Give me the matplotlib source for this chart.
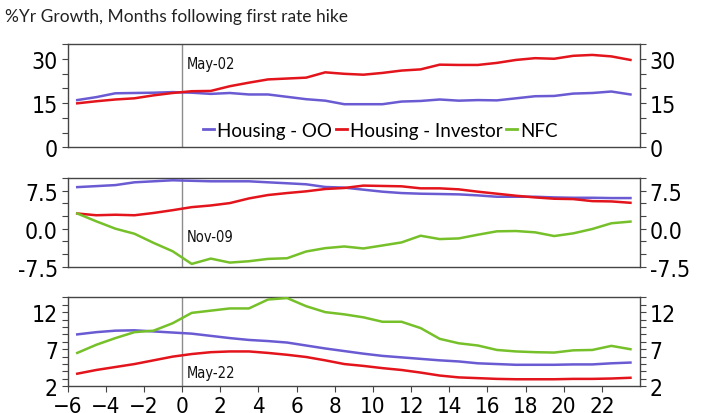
import numpy as np
import matplotlib
matplotlib.use("Agg")
import matplotlib.pyplot as plt
from matplotlib.ticker import FixedLocator, FuncFormatter
from matplotlib.lines import Line2D

# months relative to first hike (monthly obs plotted mid-month)
months = np.arange(-6, 24) + 0.5

# May-02 cycle
oo_02 = [16.0, 17.0, 18.3, 18.4, 18.5, 18.7, 18.5, 18.1, 18.4, 17.9,
         17.9, 17.1, 16.3, 15.8, 14.6, 14.6, 14.6, 15.5, 15.7, 16.2,
         15.8, 16.0, 15.9, 16.6, 17.3, 17.4, 18.2, 18.4, 18.9, 17.9]
inv_02 = [14.9, 15.6, 16.2, 16.6, 17.6, 18.4, 19.0, 19.1, 20.7, 21.9,
          23.0, 23.3, 23.6, 25.4, 24.9, 24.6, 25.2, 26.0, 26.4, 28.0,
          27.9, 27.9, 28.6, 29.6, 30.2, 30.0, 31.0, 31.3, 30.8, 29.6]

# Nov-09 cycle
oo_09 = [8.2, 8.4, 8.6, 9.15, 9.35, 9.55, 9.45, 9.35, 9.35, 9.35,
         9.15, 8.96, 8.76, 8.23, 8.1, 7.7, 7.3, 7.03, 6.9, 6.84,
         6.77, 6.57, 6.3, 6.3, 6.3, 6.17, 6.1, 6.1, 6.04, 6.04]
inv_09 = [3.0, 2.65, 2.75, 2.65, 3.1, 3.65, 4.25, 4.58, 5.05, 5.97,
          6.64, 7.03, 7.37, 7.83, 8.03, 8.5, 8.43, 8.36, 7.96, 7.96,
          7.76, 7.3, 6.9, 6.5, 6.17, 5.91, 5.84, 5.44, 5.38, 5.11]
nfc_09 = [3.0, 1.45, 0.0, -1.0, -2.8, -4.45, -6.95, -5.9, -6.69, -6.42,
          -5.96, -5.83, -4.5, -3.84, -3.51, -3.9, -3.31, -2.71, -1.39, -2.05,
          -1.92, -1.19, -0.52, -0.46, -0.72, -1.45, -0.92, -0.06, 1.07, 1.4]

# May-22 cycle
oo_22 = [9.0, 9.3, 9.5, 9.55, 9.4, 9.25, 9.1, 8.8, 8.5, 8.25,
         8.1, 7.9, 7.5, 7.1, 6.75, 6.4, 6.1, 5.9, 5.7, 5.5,
         5.35, 5.1, 5.0, 4.9, 4.9, 4.9, 4.95, 4.95, 5.1, 5.2]
inv_22 = [3.7, 4.2, 4.6, 5.0, 5.5, 6.0, 6.35, 6.6, 6.7, 6.7,
          6.5, 6.25, 5.95, 5.5, 5.0, 4.75, 4.45, 4.2, 3.85, 3.45,
          3.2, 3.1, 3.0, 2.95, 2.95, 2.95, 3.0, 3.0, 3.05, 3.15]
nfc_22 = [6.5, 7.6, 8.5, 9.3, 9.5, 10.5, 11.9, 12.2, 12.5, 12.5,
          13.7, 13.9, 12.8, 12.0, 11.7, 11.3, 10.7, 10.7, 9.85, 8.4,
          7.8, 7.5, 6.9, 6.7, 6.6, 6.55, 6.85, 6.9, 7.45, 7.0]

cycle_labels = ["May-02", "Nov-09", "May-22"]
xticks = list(range(-6, 24, 2))

C_OO = "#6a5bd3"
C_INV = "#e3141b"
C_NFC = "#76c02a"
SPINE = "#444444"

plt.rcParams["font.family"] = ["Lato", "DejaVu Sans"]

fig = plt.figure(figsize=(7.04, 4.14), dpi=100)
W, H = 704, 414
left, right = 67.7, 640


def make_ax(top, bottom):
    return fig.add_axes([left / W, 1 - bottom / H, (right - left) / W, (bottom - top) / H])


def narrow(t, size):
    t.set_family("DejaVu Sans")
    t.set_stretch("condensed")
    t.set_fontsize(size)


panels = [
    (make_ax(45, 148.3), (0, 35), 5, [0, 15, 30], "{:.0f}", 28.5),
    (make_ax(179, 267.7), (-7.5, 10), 2.5, [-7.5, 0, 7.5], "{:.1f}", -1.6),
    (make_ax(298.3, 387.3), (2, 14), 1, [2, 7, 12], "{:.0f}", 3.9),
]
series = [
    (oo_02, inv_02, None),
    (oo_09, inv_09, nfc_09),
    (oo_22, inv_22, nfc_22),
]

for i, ((ax, ylim, step, labs, fmt, ann_y), (oo, inv, nfc)) in enumerate(zip(panels, series)):
    ax.axvline(0, color="#8c8c8c", lw=1.0, zorder=1)
    ax.plot(months, oo, color=C_OO, lw=1.8, zorder=3)
    ax.plot(months, inv, color=C_INV, lw=1.8, zorder=3)
    if nfc is not None:
        ax.plot(months, nfc, color=C_NFC, lw=1.8, zorder=3)
    ax.set_xlim(-6, 24)
    ax.set_ylim(*ylim)
    ticks = np.arange(ylim[0], ylim[1] + step / 2, step)
    ax.yaxis.set_major_locator(FixedLocator(ticks))
    ax.yaxis.set_major_formatter(FuncFormatter(
        lambda v, p, labs=labs, fmt=fmt: fmt.format(v) if any(abs(v - l) < 1e-6 for l in labs) else ""))
    ax.tick_params(axis="y", which="both", direction="out", length=4, width=0.8, color=SPINE,
                   left=True, right=True, labelleft=True, labelright=True, pad=3)
    for t in ax.get_yticklabels():
        narrow(t, 16.5)
    for s in ax.spines.values():
        s.set_color(SPINE)
        s.set_linewidth(1.0)
    ann = ax.text(0.25, ann_y, cycle_labels[i], color="#111111", va="center", ha="left")
    narrow(ann, 10.5)
    if i < 2:
        ax.tick_params(axis="x", bottom=False, labelbottom=False)
    else:
        ax.set_xticks(xticks)
        ax.tick_params(axis="x", direction="out", length=4, width=0.8, color=SPINE, pad=3)
        for t in ax.get_xticklabels():
            narrow(t, 16)

handles = [Line2D([], [], color=C_OO, lw=2), Line2D([], [], color=C_INV, lw=2),
           Line2D([], [], color=C_NFC, lw=2)]
panels[0][0].legend(handles, ["Housing - OO", "Housing - Investor", "NFC"], ncol=3,
                    frameon=False, loc="center", bbox_to_anchor=(0.546, 0.165),
                    fontsize=13.5, handlelength=0.6, handletextpad=0.15, columnspacing=0.2)

fig.text(5 / W, 1 - 17 / H, "%Yr Growth, Months following first rate hike", fontsize=12.5,
         color="#222222", va="center", ha="left")

fig.savefig("out.png", dpi=100)
